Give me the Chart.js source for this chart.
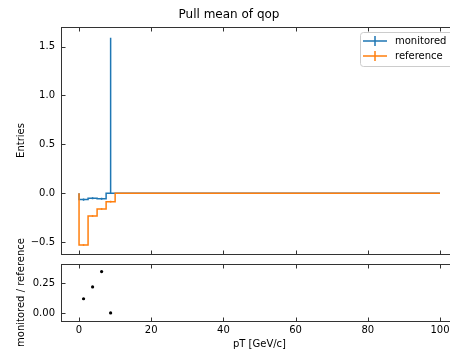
<!DOCTYPE html>
<html><head><meta charset="utf-8">
<script src="https://cdn.jsdelivr.net/npm/chart.js@4/dist/chart.umd.min.js"></script>
<style>
html,body{margin:0;padding:0;background:#fff;overflow:hidden;}
#wrap{position:relative;width:450px;height:350px;overflow:hidden;background:#fff;}
#main{position:absolute;left:0;top:0;width:480px;height:268px;}
#ratio{position:absolute;left:0;top:200px;width:480px;height:150px;}
</style></head><body>
<div id="wrap"><canvas id="main" width="480" height="268"></canvas><canvas id="ratio" width="480" height="150"></canvas></div>
<script>
// ---- data ----
const binEdges = [0,2.5,5,7.5,10,12.5,15,17.5,20,22.5,25,27.5,30,32.5,35,37.5,40,42.5,45,47.5,50,
  52.5,55,57.5,60,62.5,65,67.5,70,72.5,75,77.5,80,82.5,85,87.5,90,92.5,95,97.5,100];
const monitored = [-0.064,-0.050,-0.055,0.0,0,0,0,0,0,0,0,0,0,0,0,0,0,0,0,0,
  0,0,0,0,0,0,0,0,0,0,0,0,0,0,0,0,0,0,0,0];
const reference = [-0.528,-0.231,-0.160,-0.085,0,0,0,0,0,0,0,0,0,0,0,0,0,0,0,0,
  0,0,0,0,0,0,0,0,0,0,0,0,0,0,0,0,0,0,0,0];
const monitoredErrLow  = [0.012,0.010,0.010,0.0];
const monitoredErrHigh = [0.012,0.010,0.010,1.59];
const referenceErr     = [0.008,0.008,0.008,0.008];
const ratioValues = [0.12,0.22,0.35,0.0];
const xTickStep = 20;
const seriesLabels = ['monitored','reference'];

// ---- helpers ----
const FONT = 'DejaVu Sans';
const BLUE = '#1f77b4', ORANGE = '#ff7f0e';
function stepData(vals){
  const d=[{x:binEdges[0],y:0}];
  for(let i=0;i<vals.length;i++) d.push({x:binEdges[i],y:vals[i]});
  d.push({x:binEdges[binEdges.length-1],y:vals[vals.length-1]});
  d.push({x:binEdges[binEdges.length-1],y:0});
  return d;
}
function errData(vals,lo,hi){
  const d=[];
  for(let i=0;i<lo.length;i++){
    const c=(binEdges[i]+binEdges[i+1])/2;
    d.push({x:c,y:vals[i]-lo[i]},{x:c,y:vals[i]+hi[i]},{x:c,y:null});
  }
  return d;
}
const ratioData = ratioValues.map((v,i)=>({x:(binEdges[i]+binEdges[i+1])/2,y:v}));
const minus = s => s.replace('-', '\u2212');

const framePlugin = {id:'frame', afterDatasetsDraw(chart){
  const {ctx, chartArea:a, scales} = chart;
  const L=Math.round(a.left)+0.5, R=Math.round(a.right)+0.5, T=Math.round(a.top)+0.5, B=Math.round(a.bottom)+0.5;
  ctx.save();
  ctx.strokeStyle='#333'; ctx.lineWidth=1;
  ctx.strokeRect(L,T,R-L,B-T);
  const tl=4;
  ctx.beginPath();
  scales.x.ticks.forEach(t=>{const p=Math.round(scales.x.getPixelForValue(t.value))+0.5;
    ctx.moveTo(p,B);ctx.lineTo(p,B-tl);ctx.moveTo(p,T);ctx.lineTo(p,T+tl);});
  scales.y.ticks.forEach(t=>{const p=Math.round(scales.y.getPixelForValue(t.value))+0.5;
    ctx.moveTo(L,p);ctx.lineTo(L+tl,p);ctx.moveTo(R,p);ctx.lineTo(R-tl,p);});
  ctx.stroke();
  ctx.restore();
}};

const legendPlugin = {id:'boxLegend', afterDraw(chart){
  const ctx=chart.ctx;
  const x=360,y=32,w=110,h=34,r=3;
  ctx.save();
  ctx.fillStyle='rgba(255,255,255,0.8)'; ctx.strokeStyle='#cccccc'; ctx.lineWidth=1;
  ctx.beginPath(); ctx.roundRect(x+0.5,y+0.5,w,h,r); ctx.fill(); ctx.stroke();
  const items=[chart.data.datasets[0],chart.data.datasets[1]];
  items.forEach((ds,i)=>{
    const yy=y+9+i*15;
    ctx.strokeStyle=ds.borderColor; ctx.lineWidth=1.5;
    ctx.beginPath(); ctx.moveTo(363,yy); ctx.lineTo(387,yy); ctx.moveTo(375,yy-5); ctx.lineTo(375,yy+5); ctx.stroke();
    ctx.fillStyle='#000'; ctx.font='10px "'+FONT+'"'; ctx.textBaseline='middle'; ctx.textAlign='left';
    ctx.fillText(ds.label,395,yy);
  });
  ctx.restore();
}};

const tickFont = {family:FONT,size:10};

new Chart(document.getElementById('main'),{
  type:'line',
  data:{datasets:[
    {label:seriesLabels[0],data:stepData(monitored),borderColor:BLUE,borderWidth:1.5,pointRadius:0,stepped:'before',fill:false,order:3},
    {label:seriesLabels[1],data:stepData(reference),borderColor:ORANGE,borderWidth:1.5,pointRadius:0,stepped:'before',fill:false,order:2},
    {label:seriesLabels[0]+' err',data:errData(monitored,monitoredErrLow,monitoredErrHigh),borderColor:BLUE,borderWidth:1.5,pointRadius:0,spanGaps:false,fill:false,order:1},
    {label:seriesLabels[1]+' err',data:errData(reference,referenceErr,referenceErr),borderColor:ORANGE,borderWidth:1.5,pointRadius:0,spanGaps:false,fill:false,order:0}
  ]},
  options:{
    responsive:false, animation:false, events:[],
    layout:{padding:{left:0,right:22,top:0,bottom:0}},
    plugins:{legend:{display:false},tooltip:{enabled:false},
      title:{display:true,text:'Pull mean of qop',color:'#000',font:{family:FONT,size:12,weight:'normal'},padding:{top:8,bottom:4.6}}},
    scales:{
      x:{type:'linear',min:-5,max:105,grid:{display:false,drawTicks:false},border:{display:false},
         ticks:{display:false,stepSize:xTickStep,includeBounds:false},afterFit(s){s.height=14;}},
      y:{type:'linear',min:-0.62,max:1.70,grid:{display:false,drawTicks:false},border:{display:false},
         ticks:{stepSize:0.5,includeBounds:false,padding:6,color:'#000',font:tickFont,callback:v=>minus(Number(v).toFixed(1))},
         title:{display:true,text:'Entries',color:'#000',font:tickFont,padding:{top:15,bottom:0}},
         afterFit(s){s.width=61;}}
    }
  },
  plugins:[framePlugin,legendPlugin]
});

new Chart(document.getElementById('ratio'),{
  type:'scatter',
  data:{datasets:[{label:'monitored / reference',data:ratioData,backgroundColor:'#000',borderColor:'#000',borderWidth:0,pointRadius:1.6}]},
  options:{
    responsive:false, animation:false, events:[],
    layout:{padding:{left:0,right:22,top:64,bottom:0}},
    plugins:{legend:{display:false},tooltip:{enabled:false}},
    scales:{
      x:{type:'linear',min:-5,max:105,grid:{display:false,drawTicks:false},border:{display:false},
         ticks:{stepSize:xTickStep,includeBounds:false,padding:3,color:'#000',font:tickFont,maxRotation:0,callback:v=>String(v)},
         title:{display:true,text:'pT [GeV/c]',color:'#000',font:tickFont,padding:{top:0,bottom:0}},
         afterFit(s){s.height=29;}},
      y:{type:'linear',min:-0.068,max:0.414,grid:{display:false,drawTicks:false},border:{display:false},
         ticks:{stepSize:0.25,includeBounds:false,padding:6,color:'#000',font:tickFont,callback:v=>minus(Number(v).toFixed(2))},
         title:{display:true,text:'monitored / reference',color:'#000',font:tickFont,padding:{top:15,bottom:0}},
         afterFit(s){s.width=61;}}
    }
  },
  plugins:[framePlugin]
});
</script>
</body></html>
